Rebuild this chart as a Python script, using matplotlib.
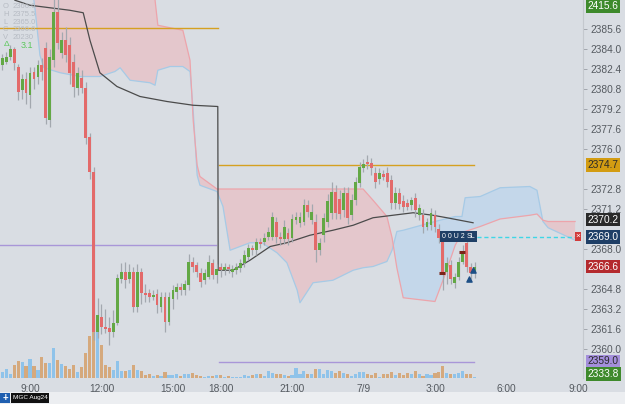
import matplotlib
matplotlib.use("Agg")
import matplotlib.pyplot as plt
import numpy as np
from matplotlib.patches import Rectangle

plt.rcParams['font.family'] = ['Liberation Sans', 'DejaVu Sans']

# ---------------- data (10-minute bars, bar 0 = 9:00) ----------------
bars = np.arange(-7, 113)
opens = [2382.7, 2383.0, 2383.4, 2384.0, 2382.6, 2380.7, 2381.6, 2380.3, 2382.2, 2381.8,
         2382.7, 2384.1, 2378.3, 2383.1, 2387.0, 2383.7, 2384.7, 2384.3, 2383.0, 2380.9,
         2381.7, 2380.9, 2377.0, 2374.2, 2361.4, 2362.6, 2361.8, 2361.7, 2361.4, 2362.1,
         2365.6, 2366.2, 2365.6, 2366.2, 2363.4, 2366.2, 2364.5, 2364.5, 2364.2, 2364.4,
         2363.4, 2364.2, 2362.2, 2364.0, 2364.6, 2365.0, 2364.7, 2365.1, 2367.0, 2366.7,
         2366.1, 2365.5, 2365.8, 2366.9, 2365.9, 2366.6, 2366.3, 2366.6, 2366.2, 2366.3,
         2366.5, 2366.9, 2367.4, 2368.1, 2367.9, 2368.6, 2368.6, 2369.0, 2369.0, 2370.2,
         2369.0, 2368.8, 2369.3, 2368.9, 2370.3, 2370.1, 2370.2, 2371.5, 2370.3, 2370.2,
         2367.9, 2369.1, 2370.2, 2370.9, 2372.6, 2372.0, 2371.1, 2372.5, 2370.7, 2371.9,
         2373.3, 2374.5, 2375.0, 2374.9, 2374.1, 2373.6, 2374.0, 2374.1, 2373.5, 2371.7,
         2372.5, 2371.8, 2371.7, 2371.5, 2372.1, 2370.7, 2370.7, 2369.8, 2369.9, 2370.7,
         2369.6, 2369.0, 2366.2, 2366.7, 2365.3, 2365.8, 2367.0, 2368.5, 2366.6, 2366.1]
highs = [2383.6, 2383.8, 2384.3, 2384.2, 2382.8, 2382.0, 2382.2, 2382.6, 2382.6, 2383.1,
         2383.3, 2384.6, 2384.0, 2388.5, 2388.2, 2385.4, 2385.8, 2385.0, 2383.6, 2382.6,
         2382.3, 2381.4, 2377.3, 2374.6, 2364.1, 2363.6, 2363.2, 2362.6, 2363.1, 2366.0,
         2366.9, 2367.0, 2366.8, 2366.6, 2366.8, 2366.5, 2365.2, 2364.8, 2364.7, 2364.8,
         2364.6, 2364.6, 2364.6, 2365.1, 2365.3, 2365.3, 2365.5, 2367.6, 2367.4, 2367.0,
         2366.5, 2366.4, 2367.5, 2367.2, 2366.8, 2366.9, 2366.9, 2366.8, 2366.7, 2366.9,
         2367.2, 2367.9, 2368.4, 2368.3, 2368.9, 2368.9, 2369.3, 2369.8, 2371.0, 2370.6,
         2369.4, 2370.3, 2369.7, 2370.8, 2371.0, 2371.0, 2372.0, 2371.9, 2371.6, 2370.8,
         2368.9, 2370.9, 2372.4, 2373.4, 2373.1, 2372.7, 2373.0, 2373.0, 2372.4, 2373.8,
         2375.0, 2375.2, 2375.5, 2375.3, 2374.6, 2374.5, 2374.3, 2374.6, 2373.9, 2373.0,
         2372.9, 2372.3, 2372.0, 2372.2, 2372.5, 2371.6, 2371.2, 2370.5, 2371.3, 2371.1,
         2370.0, 2369.4, 2367.4, 2367.1, 2366.1, 2367.4, 2368.3, 2369.0, 2366.9, 2367.0]
lows = [2382.3, 2382.8, 2383.1, 2382.3, 2379.9, 2380.0, 2379.6, 2379.3, 2380.8, 2381.2,
        2381.5, 2378.0, 2377.8, 2382.6, 2384.0, 2383.3, 2383.0, 2381.2, 2380.2, 2380.3,
        2380.5, 2376.4, 2373.6, 2360.7, 2360.9, 2361.2, 2361.3, 2360.3, 2361.0, 2361.9,
        2365.3, 2364.9, 2365.3, 2363.0, 2363.0, 2363.6, 2363.8, 2363.8, 2363.9, 2362.9,
        2363.0, 2361.4, 2361.9, 2363.2, 2364.0, 2364.3, 2364.3, 2364.7, 2366.2, 2365.8,
        2365.0, 2365.2, 2365.6, 2365.6, 2365.3, 2365.8, 2365.9, 2366.1, 2365.8, 2366.0,
        2366.2, 2366.6, 2367.1, 2367.5, 2367.5, 2368.1, 2368.3, 2368.7, 2368.7, 2368.5,
        2368.3, 2368.4, 2368.3, 2368.6, 2370.0, 2369.8, 2369.9, 2370.6, 2370.0, 2367.0,
        2367.5, 2368.6, 2369.8, 2370.4, 2370.4, 2370.4, 2370.6, 2370.0, 2370.3, 2371.5,
        2373.0, 2374.2, 2374.4, 2373.9, 2372.9, 2373.2, 2373.5, 2373.0, 2371.2, 2371.2,
        2371.2, 2371.0, 2371.1, 2371.1, 2370.6, 2370.3, 2369.3, 2369.5, 2369.5, 2369.4,
        2368.5, 2364.7, 2365.2, 2365.2, 2364.9, 2365.5, 2366.8, 2366.2, 2365.6, 2365.7]
closes = [2383.3, 2383.4, 2384.0, 2382.9, 2380.6, 2381.6, 2380.5, 2382.1, 2381.6, 2382.7,
          2382.2, 2378.5, 2383.4, 2387.0, 2384.5, 2384.7, 2383.5, 2382.1, 2381.0, 2382.1,
          2380.9, 2376.9, 2374.2, 2361.4, 2362.7, 2361.8, 2361.6, 2361.4, 2362.1, 2365.7,
          2366.2, 2365.5, 2366.2, 2363.4, 2366.2, 2364.5, 2364.3, 2364.2, 2364.3, 2363.5,
          2364.2, 2362.2, 2364.2, 2364.7, 2365.0, 2364.7, 2365.2, 2367.0, 2366.6, 2366.2,
          2365.4, 2366.1, 2367.0, 2365.9, 2366.4, 2366.3, 2366.6, 2366.4, 2366.4, 2366.6,
          2366.9, 2367.5, 2368.1, 2367.9, 2368.6, 2368.4, 2368.9, 2369.4, 2370.6, 2369.0,
          2368.8, 2369.8, 2368.8, 2370.4, 2370.6, 2370.6, 2371.5, 2371.0, 2371.0, 2367.9,
          2368.5, 2370.5, 2371.8, 2372.6, 2370.9, 2370.8, 2372.5, 2370.5, 2371.9, 2373.4,
          2374.6, 2374.8, 2374.8, 2374.5, 2373.4, 2374.1, 2373.8, 2373.4, 2371.7, 2372.5,
          2371.6, 2371.4, 2371.4, 2371.9, 2371.1, 2371.3, 2369.8, 2370.2, 2370.9, 2369.8,
          2368.9, 2366.1, 2366.9, 2365.6, 2365.8, 2367.0, 2367.8, 2366.6, 2366.1, 2366.6]
volumes = [240, 360, 160, 520, 680, 640, 480, 760, 480, 320,
           840, 600, 600, 1200, 720, 560, 480, 360, 520, 240,
           440, 1000, 1680, 1920, 1880, 1320, 520, 440, 320, 680,
           280, 280, 320, 520, 320, 280, 120, 160, 80, 120,
           80, 240, 120, 120, 160, 80, 160, 160, 200, 120,
           80, 40, 80, 80, 120, 120, 40, 80, 40, 40,
           40, 120, 80, 120, 160, 160, 80, 280, 200, 160,
           160, 120, 80, 120, 400, 160, 280, 160, 160, 360,
           360, 160, 320, 280, 200, 280, 200, 160, 80, 160,
           240, 240, 160, 120, 200, 40, 160, 160, 240, 120,
           200, 120, 200, 160, 280, 160, 80, 160, 120, 200,
           240, 480, 200, 160, 160, 200, 280, 160, 160, 40]

# Ichimoku cloud knots (bar position, senkou span A, senkou span B)
cloud_bars = [0.0, 1.3, 2.5, 3.5, 7.6, 12.6, 17.6, 21.4, 22.7, 25.2, 30.2, 31.5, 32.2,
              35.3, 38.5, 40.3, 41.1, 42.1, 42.8, 47.1, 48.6, 50.4, 55.4, 58.4, 62.2,
              64.7, 67.3, 68.0, 71.3, 76.3, 81.4, 83.9, 86.4, 89.9, 91.2, 92.4, 94.0,
              102.0, 104.5, 107.1, 108.8, 109.6, 113.4, 118.4, 125.9, 127.7, 129.2,
              130.5, 137.3]
span_a = [2390.3, 2387.1, 2383.5, 2382.5, 2382.1, 2381.8, 2381.8, 2382.2, 2382.5, 2381.5,
          2381.3, 2381.1, 2382.3, 2382.6, 2382.6, 2382.2, 2379.1, 2373.9, 2373.1, 2372.6,
          2371.4, 2367.9, 2368.5, 2368.5, 2367.7, 2366.9, 2364.7, 2363.7, 2365.3, 2365.5,
          2366.3, 2366.5, 2366.6, 2367.0, 2367.9, 2369.4, 2369.5, 2370.2, 2370.4, 2370.6,
          2370.6, 2372.1, 2372.2, 2372.9, 2373.0, 2372.7, 2370.2, 2369.7, 2368.7]
span_b = [2392.7, 2392.7, 2392.7, 2392.7, 2392.7, 2392.7, 2392.7, 2392.7, 2392.7, 2392.7,
          2392.7, 2387.9, 2385.9, 2385.7, 2385.5, 2383.1, 2378.3, 2374.7, 2373.8, 2372.8,
          2372.8, 2372.8, 2372.8, 2372.8, 2372.8, 2372.8, 2372.8, 2372.8, 2372.8, 2372.8,
          2372.8, 2372.8, 2371.9, 2370.6, 2368.9, 2366.5, 2364.1, 2363.8, 2365.9, 2368.3,
          2369.3, 2369.4, 2369.8, 2370.4, 2370.7, 2370.8, 2370.3, 2370.2, 2370.2]

# session VWAP
vwap_bars = [-3.8, 0, 5, 10, 13.4, 15.1, 17.6, 21.9, 27.7, 34.5, 41.1, 47.3,
             47.4, 51.1, 55.4, 60.5, 64.7, 70.5, 76.3, 81.4, 86.4, 91.4, 96.5, 101.5, 105, 111.6]
vwap_vals = [2387.9, 2387.5, 2387.3, 2387.1, 2386.9, 2384.7, 2382.1, 2381.0, 2380.2, 2379.8,
             2379.5, 2379.4, 2366.3, 2366.3, 2367.1, 2368.2, 2368.5, 2369.1, 2369.5, 2369.9,
             2370.5, 2370.7, 2370.9, 2370.7, 2370.5, 2370.1]

# horizontal levels: (start bar, end bar, price)
prev_high = (-8, 47.3, 2385.7)
prev_low = (-8, 46.8, 2368.3)
sess_high = (47.5, 111.8, 2374.7)
sess_low = (47.5, 111.8, 2359.0)
stop_level = (109.0, 137.5, 2369.0)

time_ticks = [0, 18, 36, 48, 66, 84, 102, 120, 138]
time_labels = ["9:00", "12:00", "15:00", "18:00", "21:00", "7/9", "3:00", "6:00", "9:00"]
price_ticks = [2385.6, 2384.0, 2382.4, 2380.8, 2379.2, 2377.6, 2376.0, 2372.8, 2371.2,
               2368.0, 2364.8, 2363.2, 2361.6, 2360.0]

sell_bars, sell_prices = [103.8, 108.8], [2366.1, 2367.8]
buy_bars, buy_prices = [110.6, 111.6], [2365.6, 2366.3]

# ---------------- drawing ----------------
BG = '#d9dde3'
GREEN = '#63a845'
RED = '#e36a6a'
fig = plt.figure(figsize=(6.25, 4.04), dpi=100, facecolor=BG)
rect = [0, 26 / 404, 583 / 625, 378 / 404]

axv = fig.add_axes(rect, zorder=1)
axv.patch.set_alpha(0)
ax = fig.add_axes(rect, zorder=2)
ax.patch.set_alpha(0)

xmin, xmax = -7.56, 139.29
ymin, ymax = 2357.68, 2387.92

# volume
o = np.array(opens); c = np.array(closes); h = np.array(highs); l = np.array(lows)
up = c >= o
vcol = np.where(up, '#8fc3ea', '#d5a97d')
axv.bar(bars, volumes, width=0.78, color=vcol, linewidth=0)
axv.set_xlim(xmin, xmax)
axv.set_ylim(0, 15120)
axv.axis('off')

# cloud
cb = np.array(cloud_bars); sa = np.array(span_a); sb = np.array(span_b)
ax.fill_between(cb, sa, sb, where=sb >= sa, interpolate=True, color='#e4c7cc', lw=0, zorder=1)
ax.fill_between(cb, sa, sb, where=sa > sb, interpolate=True, color='#c4d7ea', lw=0, zorder=1)
ax.plot(cb, sa, color='#a6cae6', lw=0.9, zorder=2)
ax.plot(cb, sb, color='#eda4ab', lw=0.9, zorder=2)

# levels
for (x0, x1, p), col in [(prev_high, '#d5a021'), (sess_high, '#d5a021'),
                         (prev_low, '#a996d8'), (sess_low, '#a996d8')]:
    ax.plot([x0, x1], [p, p], color=col, lw=1.0, zorder=3)
ax.plot([stop_level[0], stop_level[1]], [stop_level[2]] * 2, color='#3fd6e6', lw=1.0,
        dashes=(3, 2), zorder=3)

# vwap
ax.plot(vwap_bars, vwap_vals, color='#4b4b4b', lw=0.9, zorder=4)

# candles
ax.vlines(bars, l, h, color='#a3a8af', lw=0.9, zorder=5)
bot = np.minimum(o, c); hgt = np.maximum(np.abs(c - o), 0.12)
ax.bar(bars, hgt, bottom=bot, width=0.72, color=np.where(up, GREEN, RED), lw=0, zorder=6)

# markers
ax.scatter(sell_bars, sell_prices, marker='_', s=22, color='#7a2418', lw=2.2, zorder=7)
ax.scatter(buy_bars, buy_prices, marker='^', s=14, color='#1d4f86', zorder=7)
ax.text(106.6, 2369.0, "0 0 U 2", fontsize=5, color='white', ha='center', va='center',
        zorder=8, bbox=dict(boxstyle='square,pad=0.25', fc='#1f3f66', ec='none'))
ax.text(111.0, 2369.0, "SL", fontsize=5, color='white', ha='center', va='center',
        zorder=8, bbox=dict(boxstyle='square,pad=0.25', fc='#1f3f66', ec='none'))
ax.text(138.0, 2369.0, "×", fontsize=6, color='white', ha='center', va='center',
        zorder=8, bbox=dict(boxstyle='square,pad=0.1', fc='#d23a3a', ec='none'))

ax.set_xlim(xmin, xmax)
ax.set_ylim(ymin, ymax)

# axes styling
for s in ['top', 'left', 'bottom']:
    ax.spines[s].set_visible(False)
ax.spines['right'].set_color('#c4c8ce')
ax.spines['right'].set_linewidth(0.8)
ax.yaxis.tick_right()
ax.set_yticks(price_ticks)
ax.set_yticklabels([f"{p:.1f}" for p in price_ticks])
ax.tick_params(axis='y', length=3, width=0.6, color='#9a9ea5', pad=2,
               labelsize=7.3, labelcolor='#555a60')
ax.set_xticks(time_ticks)
ax.set_xticklabels(time_labels)
ax.tick_params(axis='x', length=0, pad=4, labelsize=7.3, labelcolor='#555a60')

# right-axis value boxes
def box(price, text, fc, tc):
    ax.text(1.008, price, text, transform=ax.get_yaxis_transform(), fontsize=7.3,
            color=tc, ha='left', va='center', zorder=9, clip_on=False,
            bbox=dict(boxstyle='square,pad=0.18', fc=fc, ec='none'))

box(2387.45, "2415.6", '#3e8a2c', 'white')
box(2374.7, "2374.7", '#d39c12', '#2a2a2a')
box(2370.35, "2370.2", '#2a2a2a', 'white')
box(2368.95, "2369.0", '#1e3e66', 'white')
box(2366.6, "2366.6", '#b42a2e', 'white')
box(2359.0, "2359.0", '#a48fdc', '#2a2a2a')
box(2358.0, "2333.8", '#3e8a2c', 'white')

# top-left data legend
leg = [("O", "2366.6"), ("H", "2375.5"), ("L", "2365.0"), ("C", "2366.6"), ("V", "20230")]
for k, (a, b) in enumerate(leg):
    yy = 1 - (7 + 7.6 * k) / 404
    fig.text(3 / 625, yy, a, fontsize=5.5, color='#b6bbc3', va='center', zorder=10)
    fig.text(13 / 625, yy, b, fontsize=5.5, color='#b6bbc3', va='center', zorder=10)
fig.text(4 / 625, 1 - 45 / 404, "Δ", fontsize=6, color='#5cc85c', va='center', zorder=10)
fig.text(21 / 625, 1 - 45 / 404, "3.1", fontsize=6.5, color='#5cc85c', va='center', zorder=10)

# bottom strip
fig.patches.append(Rectangle((0, 0), 1, 12 / 404, transform=fig.transFigure,
                             fc='#eceef1', ec='none', zorder=0))
fig.patches.append(Rectangle((0, 1 / 404), 10 / 625, 10 / 404, transform=fig.transFigure,
                             fc='#1f5fb0', ec='none', zorder=1))
fig.text(5 / 625, 6 / 404, "+", fontsize=7, color='white', ha='center', va='center',
         fontweight='bold')
fig.patches.append(Rectangle((11 / 625, 1 / 404), 38 / 625, 10 / 404, transform=fig.transFigure,
                             fc='#111111', ec='none', zorder=1))
fig.text(30 / 625, 6 / 404, "MGC Aug24", fontsize=4.6, color='white', ha='center', va='center')

fig.savefig("out.png", dpi=100, facecolor=BG)
